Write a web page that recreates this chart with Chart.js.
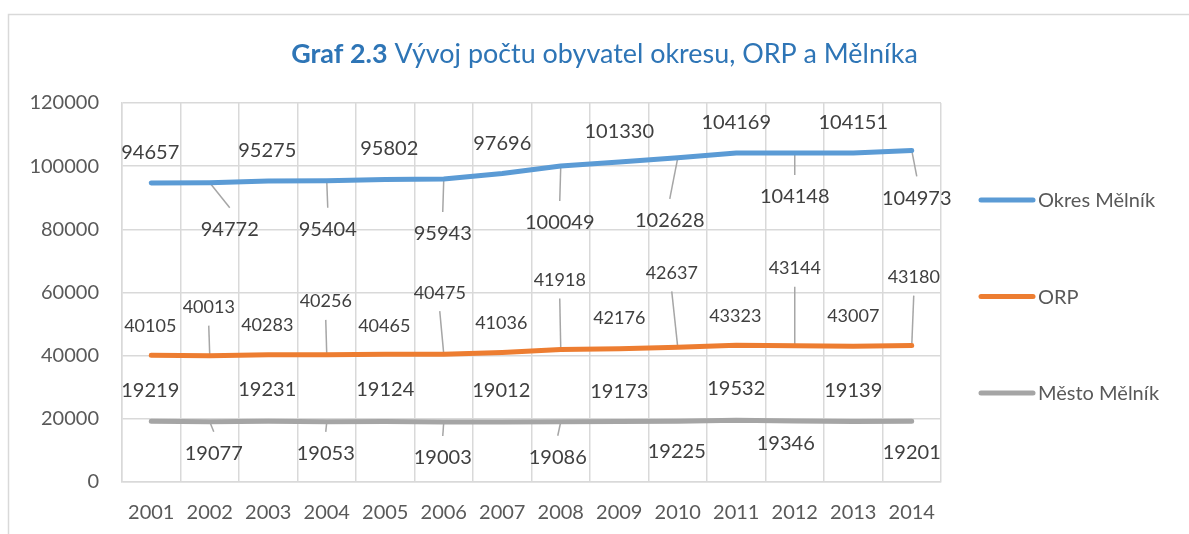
<!DOCTYPE html>
<html><head><meta charset="utf-8">
<script src="https://cdn.jsdelivr.net/npm/chart.js@4.4.1/dist/chart.umd.min.js"></script>
<style>html,body{margin:0;padding:0;background:#fff;overflow:hidden}#wrap{width:1189px;height:534px;position:relative}</style>
</head><body><div id="wrap"><canvas id="c" width="1189" height="534"></canvas></div>
<script>
// ---------- data ----------
const years = ['2001','2002','2003','2004','2005','2006','2007','2008','2009','2010','2011','2012','2013','2014'];
const okresMelnik = [94657,94772,95275,95404,95802,95943,97696,100049,101330,102628,104169,104148,104151,104973];
const orp = [40105,40013,40283,40256,40465,40475,41036,41918,42176,42637,43323,43144,43007,43180];
const mestoMelnik = [19219,19077,19231,19053,19124,19003,19012,19086,19173,19225,19532,19346,19139,19201];
const seriesNames = ['Okres Mělník','ORP','Město Mělník'];
const yMin = 0, yMax = 120000, yStep = 20000;
const titleBold = 'Graf 2.3';
const titleRest = ' Vývoj počtu obyvatel okresu, ORP a Mělníka';

// ---------- label placement (pixel offsets of label centre from its point) ----------
const okresLabelOffsets = [[-1,-31],[20,46],[-1,-31],[1,48],[4,-32],[-1,54],[0,-31],[-1,56],[0,-31],[-8,62],[0,-31],[0,43],[0,-31],[5,47]];
const orpLabelOffsets   = [[-1,-30],[-1,-49],[-1,-30],[-1,-54],[-1,-29],[-4,-62],[-1,-30],[-1,-70],[0,-31],[-6,-75],[-1,-30],[0,-78],[0,-31],[2,-69]];
const mestoLabelOffsets = [[-1,-32],[4,31],[-1,-32],[-1,31],[0,-33],[-1,35],[-1,-32],[-3,35],[0,-31],[-1,30],[0,-33],[-9,22],[0,-32],[0,30]];
const okresLeaders = [1,3,5,7,9,11,13];
const orpLeaders   = [1,3,5,7,9,11,13];
const mestoLeaders = [1,3,5,7];

// ---------- styles ----------
const colors = ['#5B9BD5','#ED7D31','#A5A5A5'];
const FONT = 'Lato, "Open Sans", sans-serif';
const gridColor = '#d9d9d9';
const textColor = '#595959';
const labelColor = '#404040';
const titleColor = '#2E75B6';

const labelCfg = [
  {offsets: okresLabelOffsets, leaders: okresLeaders, size: 20},
  {offsets: orpLabelOffsets, leaders: orpLeaders, size: 18},
  {offsets: mestoLabelOffsets, leaders: mestoLeaders, size: 20}
];

const annot = {
  id: 'annot',
  beforeDraw(chart) {
    const ctx = chart.ctx;
    ctx.save();
    ctx.fillStyle = '#fff';
    ctx.fillRect(0, 0, chart.width, chart.height);
    ctx.strokeStyle = gridColor;
    ctx.lineWidth = 1.5;
    ctx.beginPath();
    ctx.moveTo(8.5, chart.height);
    ctx.lineTo(8.5, 14.5);
    ctx.lineTo(chart.width, 14.5);
    ctx.stroke();
    ctx.restore();
  },
  beforeDatasetsDraw(chart) {
    const ctx = chart.ctx;
    ctx.save();
    ctx.strokeStyle = '#a6a6a6';
    ctx.lineWidth = 1.5;
    chart.data.datasets.forEach((ds, di) => {
      const meta = chart.getDatasetMeta(di);
      const cfg = labelCfg[di];
      cfg.leaders.forEach(i => {
        const p = meta.data[i];
        const [dx, dy] = cfg.offsets[i];
        const lx = p.x + dx, ly = p.y + dy;
        const sgn = dy > 0 ? 1 : -1;
        ctx.beginPath();
        ctx.moveTo(p.x, p.y);
        ctx.lineTo(lx, ly - sgn * (cfg.size + 1));
        ctx.stroke();
      });
    });
    ctx.restore();
  },
  afterDatasetsDraw(chart) {
    const ctx = chart.ctx;
    const area = chart.chartArea;
    ctx.save();
    // data labels
    chart.data.datasets.forEach((ds, di) => {
      const meta = chart.getDatasetMeta(di);
      const cfg = labelCfg[di];
      ctx.font = cfg.size + 'px ' + FONT;
      ctx.fillStyle = labelColor;
      ctx.textAlign = 'center';
      ctx.textBaseline = 'alphabetic';
      meta.data.forEach((p, i) => {
        const [dx, dy] = cfg.offsets[i];
        ctx.fillText(String(ds.data[i]), p.x + dx, p.y + dy + cfg.size * 0.36);
      });
    });
    // legend
    const midY = (area.top + area.bottom) / 2 + 4;
    const gap = 96.5;
    ctx.font = '20px ' + FONT;
    ctx.textAlign = 'left';
    chart.data.datasets.forEach((ds, di) => {
      const y = midY + (di - 1) * gap;
      ctx.strokeStyle = colors[di];
      ctx.lineWidth = 5;
      ctx.lineCap = 'round';
      ctx.beginPath();
      ctx.moveTo(area.right + 40, y);
      ctx.lineTo(area.right + 92, y);
      ctx.stroke();
      ctx.fillStyle = textColor;
      ctx.fillText(ds.label, area.right + 97, y + 7);
    });
    // title
    let size = 24;
    ctx.font = 'bold ' + size + 'px ' + FONT;
    let wb = ctx.measureText(titleBold).width;
    ctx.font = size + 'px ' + FONT;
    let wr = ctx.measureText(titleRest).width;
    size = size * 627 / (wb + wr);
    ctx.font = 'bold ' + size + 'px ' + FONT;
    wb = ctx.measureText(titleBold).width;
    ctx.font = size + 'px ' + FONT;
    wr = ctx.measureText(titleRest).width;
    const cx = 604.5;
    const x0 = cx - (wb + wr) / 2;
    ctx.fillStyle = titleColor;
    ctx.textAlign = 'left';
    ctx.font = 'bold ' + size + 'px ' + FONT;
    ctx.fillText(titleBold, x0, 63);
    ctx.font = size + 'px ' + FONT;
    ctx.fillText(titleRest, x0 + wb, 63);
    ctx.restore();
  }
};

const mkDs = (label, data, color) => ({
  label, data, borderColor: color, backgroundColor: color,
  borderWidth: 5, pointRadius: 0, pointHoverRadius: 0, tension: 0,
  borderCapStyle: 'round', borderJoinStyle: 'round', fill: false
});

new Chart(document.getElementById('c'), {
  type: 'line',
  data: {
    labels: years,
    datasets: [
      mkDs(seriesNames[0], okresMelnik, colors[0]),
      mkDs(seriesNames[1], orp, colors[1]),
      mkDs(seriesNames[2], mestoMelnik, colors[2])
    ]
  },
  options: {
    responsive: false,
    animation: false,
    devicePixelRatio: 1,
    layout: {padding: {left: 0, top: 103, right: 248, bottom: 0}},
    plugins: {legend: {display: false}, title: {display: false}, tooltip: {enabled: false}},
    events: [],
    scales: {
      x: {
        offset: true,
        grid: {offset: true, color: gridColor, lineWidth: 1.5, drawTicks: false},
        border: {color: gridColor, width: 1.5},
        ticks: {color: textColor, font: {family: FONT, size: 20}, padding: 19, maxRotation: 0, autoSkip: false},
        afterFit(s) { s.height = 52; }
      },
      y: {
        min: yMin, max: yMax,
        grid: {color: gridColor, lineWidth: 1.5, drawTicks: false},
        border: {color: gridColor, width: 1.5},
        ticks: {stepSize: yStep, color: textColor, font: {family: FONT, size: 20}, padding: 23,
                callback: v => String(v)},
        afterFit(s) { s.width = 122; }
      }
    }
  },
  plugins: [annot]
});
</script>
</body></html>
